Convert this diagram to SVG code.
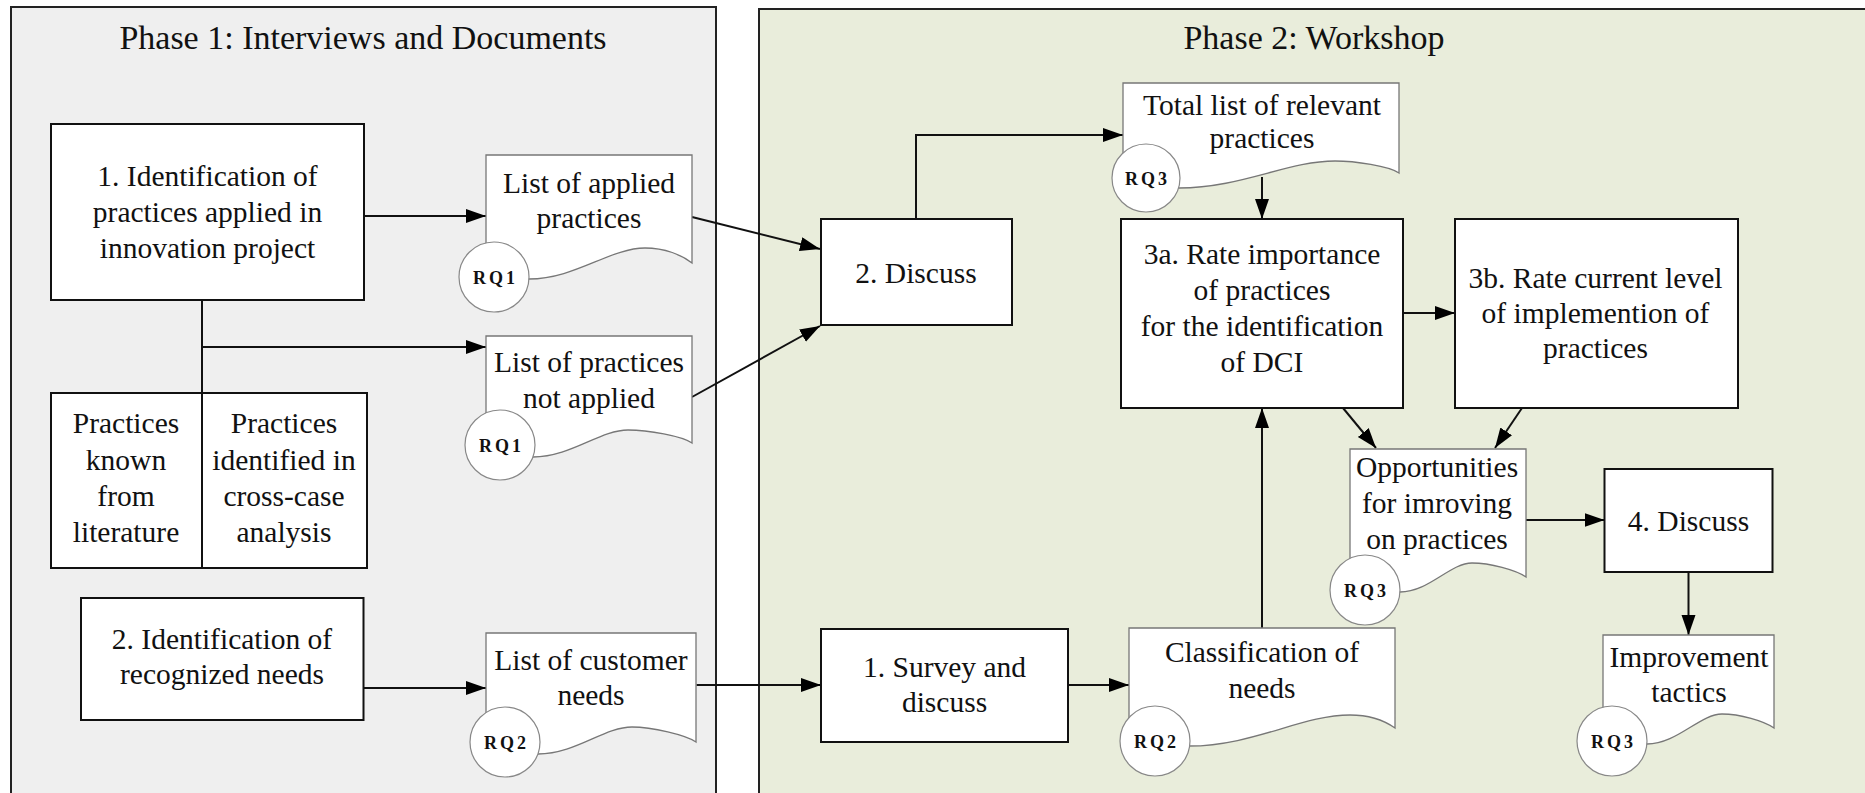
<svg xmlns="http://www.w3.org/2000/svg" width="1865" height="793" viewBox="0 0 1865 793">
<defs>
<marker id="ah" markerUnits="userSpaceOnUse" markerWidth="22" markerHeight="15" refX="20" refY="7" orient="auto">
<path d="M0,0 L20,7 L0,14 z" fill="#000"/>
</marker>
<style>
.panel{stroke:#222;stroke-width:2}
.box{fill:#fff;stroke:#111;stroke-width:2}
.doc{fill:#fff;stroke:#777;stroke-width:1.3}
.rq{fill:#fff;stroke:#888;stroke-width:1.2}
.t{font-family:"Liberation Serif","Times New Roman",serif;font-size:29.5px;fill:#111;text-anchor:middle}
.title{font-family:"Liberation Serif","Times New Roman",serif;font-size:34px;fill:#111;text-anchor:middle}
.rqt{font-family:"Liberation Serif","Times New Roman",serif;font-size:18px;font-weight:bold;letter-spacing:3px;fill:#111;text-anchor:middle}
.c{fill:none;stroke:#111;stroke-width:2}
.ca{fill:none;stroke:#111;stroke-width:2;marker-end:url(#ah)}
</style>
</defs>
<rect width="1865" height="793" fill="#fff"/>
<g id="phase1">
<rect class="panel" x="11" y="7" width="705" height="800" fill="#efefef"/>
<text class="title" x="363" y="49">Phase 1: Interviews and Documents</text>
</g>
<g id="phase2">
<rect class="panel" x="759" y="9" width="1120" height="800" fill="#e9eddb"/>
<text class="title" x="1314" y="49">Phase 2: Workshop</text>
</g>

<g id="connectors">
<line class="ca" x1="364" y1="216" x2="486" y2="216"/>
<line class="c" x1="202" y1="300" x2="202" y2="393"/>
<line class="ca" x1="202" y1="347" x2="486" y2="347"/>
<line class="ca" x1="692" y1="217" x2="820" y2="249"/>
<line class="ca" x1="692" y1="397" x2="820" y2="326"/>
<line class="ca" x1="363.5" y1="688" x2="486" y2="688"/>
<line class="ca" x1="696.5" y1="685" x2="821" y2="685"/>
<line class="ca" x1="1068" y1="685" x2="1129" y2="685"/>
<polyline class="ca" points="916,219 916,135 1123,135"/>
<line class="ca" x1="1262" y1="177" x2="1262" y2="219"/>
<line class="ca" x1="1262" y1="628" x2="1262" y2="408"/>
<line class="ca" x1="1403" y1="313" x2="1455" y2="313"/>
<line class="ca" x1="1343" y1="408" x2="1376" y2="448"/>
<line class="ca" x1="1522" y1="408" x2="1495" y2="448"/>
<line class="ca" x1="1526" y1="520" x2="1604.5" y2="520"/>
<line class="ca" x1="1688.5" y1="572" x2="1688.5" y2="635"/>
</g>

<g id="identify-practices">
<rect class="box" x="51" y="124" width="313" height="176"/>
<text class="t"><tspan x="207.5" y="186">1. Identification of</tspan><tspan x="207.5" y="222">practices applied in</tspan><tspan x="207.5" y="258">innovation project</tspan></text>
</g>
<g id="sources">
<rect class="box" x="51" y="393" width="316" height="175"/>
<line x1="202" y1="393" x2="202" y2="568" stroke="#111" stroke-width="2"/>
<text class="t"><tspan x="126" y="433">Practices</tspan><tspan x="126" y="470">known</tspan><tspan x="126" y="506">from</tspan><tspan x="126" y="542">literature</tspan></text>
<text class="t"><tspan x="284" y="433">Practices</tspan><tspan x="284" y="470">identified in</tspan><tspan x="284" y="506">cross-case</tspan><tspan x="284" y="542">analysis</tspan></text>
</g>
<g id="identify-needs">
<rect class="box" x="81" y="598" width="282.5" height="122"/>
<text class="t"><tspan x="222" y="649">2. Identification of</tspan><tspan x="222" y="684">recognized needs</tspan></text>
</g>

<g id="doc-applied">
<path class="doc" d="M486,155 H692 V263 C682,255 665,248 645,248 C610,248 575,279 529,279 L486,279 Z"/>
<circle class="rq" cx="494" cy="277" r="35"/>
<text class="rqt" x="495.5" y="284">RQ1</text>
<text class="t"><tspan x="589" y="193">List of applied</tspan><tspan x="589" y="228">practices</tspan></text>
</g>
<g id="doc-not-applied">
<path class="doc" d="M486,336 H692 V443 C682,436 648,430 628,430 C600,430 571,457 533,457 L486,457 Z"/>
<circle class="rq" cx="500" cy="445" r="35"/>
<text class="rqt" x="501.5" y="452">RQ1</text>
<text class="t"><tspan x="589" y="372">List of practices</tspan><tspan x="589" y="408">not applied</tspan></text>
</g>
<g id="doc-customer-needs">
<path class="doc" d="M486,633 H696 V742 C686,735 652,727 632,727 C604,727 576,754 538,754 L486,754 Z"/>
<circle class="rq" cx="505" cy="742" r="35"/>
<text class="rqt" x="506.5" y="749">RQ2</text>
<text class="t"><tspan x="591" y="670">List of customer</tspan><tspan x="591" y="705">needs</tspan></text>
</g>

<g id="discuss2">
<rect class="box" x="821" y="219" width="191" height="106"/>
<text class="t" x="916" y="283">2. Discuss</text>
</g>
<g id="survey">
<rect class="box" x="821" y="629" width="247" height="113"/>
<text class="t"><tspan x="944.5" y="677">1. Survey and</tspan><tspan x="944.5" y="712">discuss</tspan></text>
</g>
<g id="doc-total-list">
<path class="doc" d="M1123,83 H1399 V173 C1389,166 1355,161 1335,161 C1288,161 1241,188 1179,188 L1123,188 Z"/>
<circle class="rq" cx="1146" cy="178" r="34"/>
<text class="rqt" x="1147.5" y="185">RQ3</text>
<text class="t"><tspan x="1262" y="115">Total list of relevant</tspan><tspan x="1262" y="148">practices</tspan></text>
</g>
<g id="rate-importance">
<rect class="box" x="1121" y="219" width="282" height="189"/>
<text class="t"><tspan x="1262" y="264">3a. Rate importance</tspan><tspan x="1262" y="300">of practices</tspan><tspan x="1262" y="336">for the identification</tspan><tspan x="1262" y="372">of DCI</tspan></text>
</g>
<g id="rate-implementation">
<rect class="box" x="1455" y="219" width="283" height="189"/>
<text class="t"><tspan x="1595.5" y="288">3b. Rate current level</tspan><tspan x="1595.5" y="323">of implemention of</tspan><tspan x="1595.5" y="358">practices</tspan></text>
</g>
<g id="doc-classification">
<path class="doc" d="M1129,628 H1395 V728 C1385,721 1370,715 1350,715 C1302,715 1253,746 1189,746 L1129,746 Z"/>
<circle class="rq" cx="1155" cy="741" r="35"/>
<text class="rqt" x="1156.5" y="748">RQ2</text>
<text class="t"><tspan x="1262" y="662">Classification of</tspan><tspan x="1262" y="698">needs</tspan></text>
</g>
<g id="doc-opportunities">
<path class="doc" d="M1350,449 H1526 V577 C1516,570 1490,563 1472,563 C1450,563 1429,592 1400,592 L1350,592 Z"/>
<circle class="rq" cx="1365" cy="590" r="35"/>
<text class="rqt" x="1366.5" y="597">RQ3</text>
<text class="t"><tspan x="1437" y="477">Opportunities</tspan><tspan x="1437" y="513">for imroving</tspan><tspan x="1437" y="549">on practices</tspan></text>
</g>
<g id="discuss4">
<rect class="box" x="1604.5" y="469" width="168" height="103"/>
<text class="t" x="1688.5" y="531">4. Discuss</text>
</g>
<g id="doc-improvement">
<path class="doc" d="M1603,635 H1774 V728 C1764,721 1740,714 1722,714 C1700,714 1677,744 1647,744 L1603,744 Z"/>
<circle class="rq" cx="1612" cy="741" r="35"/>
<text class="rqt" x="1613.5" y="748">RQ3</text>
<text class="t"><tspan x="1689" y="667">Improvement</tspan><tspan x="1689" y="702">tactics</tspan></text>
</g>
</svg>
